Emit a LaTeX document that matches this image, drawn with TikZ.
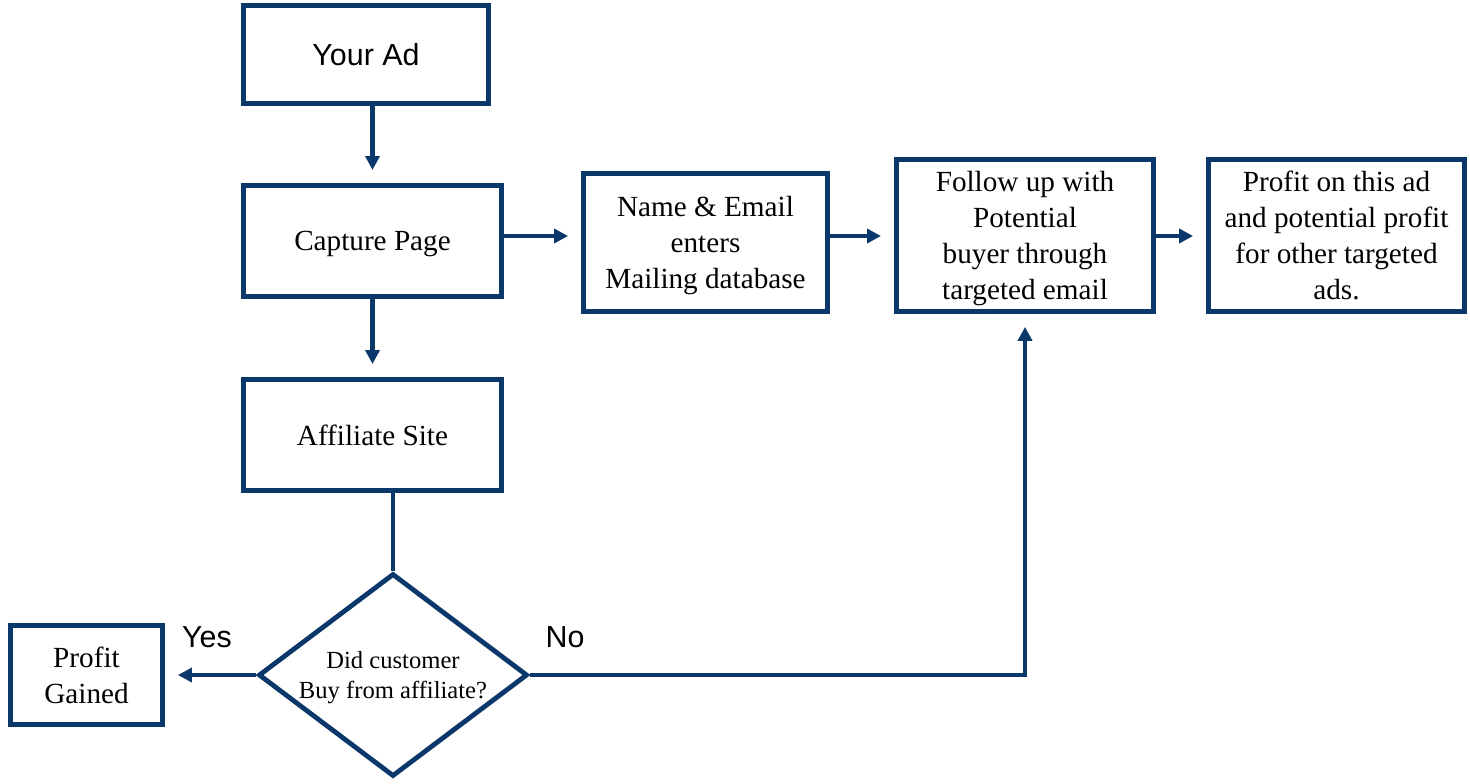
\documentclass[tikz,border=0pt]{standalone}
\usepackage{fontspec}
\setmainfont{Liberation Serif}
\newfontfamily\arialfont{Liberation Sans}
\usetikzlibrary{shapes.geometric,arrows.meta}
\definecolor{adnavy}{RGB}{10,56,106}
\begin{document}
\begin{tikzpicture}[x=0.5pt,y=-0.5pt,
  box/.style={draw=adnavy,line width=2.4pt,align=center,inner sep=2pt,text depth=0pt,
    font=\fontsize{14.6}{18}\selectfont},
  decide/.style={diamond,draw=adnavy,line width=2.4pt,align=center,inner sep=0pt,text depth=0pt,
    aspect=1.3,minimum width=134.5pt,minimum height=101.5pt,
    font=\fontsize{12.3}{15}\selectfont},
  arr/.style={draw=adnavy,line width=2.4pt,-{Triangle[length=7pt,width=7pt]},shorten >=6.5pt},
  ln/.style={draw=adnavy,line width=2.4pt},
  lbl/.style={font=\arialfont\fontsize{15.2}{18}\selectfont}]
\useasboundingbox (0,0) rectangle (1470,783);
%
\node[box,minimum width=122.6pt,minimum height=49pt,text depth=,font=\arialfont\fontsize{15.2}{18}\selectfont](ad)at(366,54.5){Your Ad};
\node[box,minimum width=129pt,minimum height=55.6pt](cap)at(372.5,241){Capture Page};
\node[box,minimum width=129pt,minimum height=55.6pt](aff)at(372.5,435){Affiliate Site};
\node[box,minimum width=122pt,minimum height=69pt](name)at(705.5,242.5){Name \& Email\\enters\\Mailing database};
\node[box,minimum width=128.6pt,minimum height=76pt](fol)at(1025,235.5){Follow up with\\Potential\\buyer through\\targeted email};
\node[box,minimum width=128pt,minimum height=76pt](prof)at(1336.5,235.5){Profit on this ad\\and potential profit\\for other targeted\\ads.};
\node[box,minimum width=76pt,minimum height=49.6pt](gain)at(86.5,675){Profit\\Gained};
\node[decide](buy)at(393,675){Did customer\\Buy from affiliate?};
%
\node[lbl](yes)at(207,637){Yes};
\node[lbl](no)at(565,637){No};
%
\draw[arr](ad.south -| cap.north)--(cap.north);
\draw[arr](cap.south)--(aff.north);
\draw[arr](cap.east |- 0,236)--(name.west |- 0,236);
\draw[arr](name.east |- 0,236)--(fol.west |- 0,236);
\draw[arr](fol.east |- 0,236)--(prof.west |- 0,236);
\draw[ln](buy.north |- aff.south)--(buy.north);
\draw[arr](buy.west)--(gain.east);
\draw[arr](buy.east)-|(fol.south);
\end{tikzpicture}
\end{document}
